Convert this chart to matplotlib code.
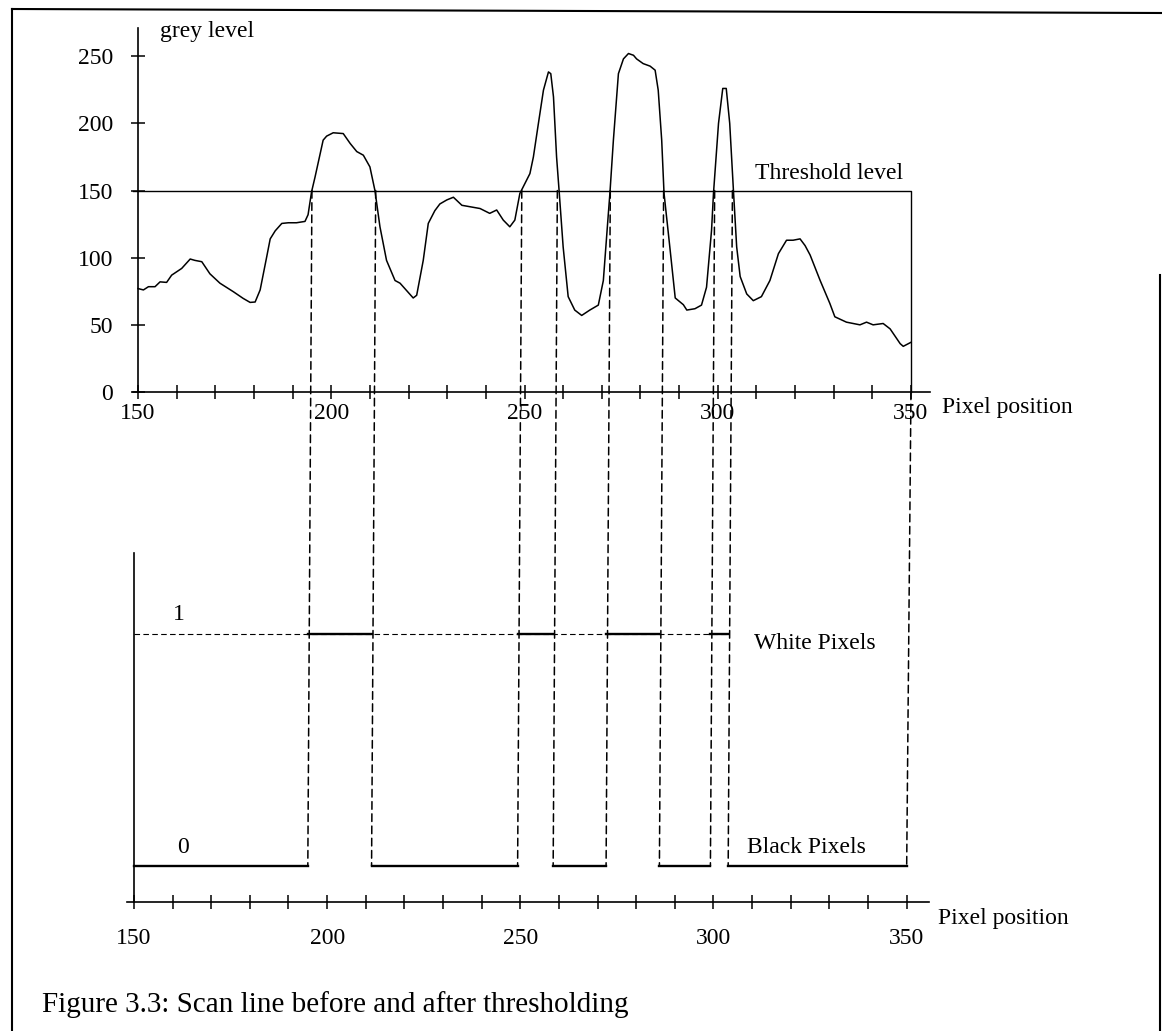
import matplotlib
matplotlib.use("Agg")
import matplotlib.pyplot as plt
from matplotlib.patches import ConnectionPatch
from matplotlib.lines import Line2D

plt.rcParams['font.family'] = ['Liberation Serif', 'DejaVu Serif']

# grey level along the scan line
pixel_pos = [150, 151.4, 152.7, 154.4, 155.7, 157.4, 158.7, 161.3, 163.5, 164.7, 166.5,
             168.6, 171.2, 174.7, 177.2, 179, 180.3, 181.6, 183.3, 184.2, 185.5, 187.2,
             188.9, 191, 193.2, 194, 194.9, 195.8, 197.9, 198.8, 200.5, 203.1, 204.9,
             206.6, 208.3, 210, 211.3, 212.6, 214.3, 216.5, 217.8, 221.2, 222.1, 223.8,
             225.1, 226.8, 228.1, 229.9, 231.6, 233.8, 238.5, 241, 242.8, 244.5, 246.2,
             247.5, 248.8, 251.4, 252.3, 253.6, 254.9, 256.2, 256.8, 257.5, 258.3, 259,
             260, 261.3, 263, 264.8, 266.9, 269.1, 270.4, 271.7, 272.1, 273, 274.3,
             275.6, 276.9, 278.2, 279, 280.7, 282.5, 283.8, 284.6, 285.5, 286.1, 287.6,
             289, 291.1, 292, 294.1, 295.8, 297.1, 298.4, 298.9, 300.2, 301.3, 302.2,
             303.1, 304.1, 304.9, 305.8, 307.5, 309.2, 311.3, 313.5, 315.7, 317.8,
             319.5, 321.3, 322.6, 323.9, 326.5, 329, 330.3, 333.3, 336.8, 338.5, 340.2,
             342.8, 344.6, 347.2, 348, 350]
grey = [77, 76, 78.4, 78.4, 82, 81.6, 87, 92, 99, 98, 97,
        88, 81, 74.6, 69.7, 66.7, 67, 76, 100.7, 114, 120, 125.5,
        126, 126, 127, 132, 149, 160, 187.5, 190.5, 193, 192.4, 185,
        179, 176.3, 167.6, 150, 123, 98, 83, 81, 70, 72, 98,
        125.5, 135, 140, 143, 145, 139, 136.6, 133, 135.5, 128, 123,
        128, 147.8, 162.6, 175, 200, 224.7, 238.3, 237, 219.7, 175, 148,
        108, 71, 61, 57, 61, 64.7, 83, 133, 148, 187.5, 237,
        248, 252, 250.7, 248, 244.5, 242.6, 239.6, 224.7, 187.5, 148, 108,
        70, 65, 61, 62, 64.7, 78, 120.5, 148, 200, 226, 226,
        200, 148, 108, 86, 73, 68, 71, 83, 103, 113,
        113, 114, 109, 102, 83, 66, 56, 52, 50, 52, 50,
        51, 47, 36, 34, 37]

threshold = 150
# positions where the scan line crosses the threshold
edges = [195, 211.5, 249.3, 258.5, 272.2, 286, 299.2, 303.8]
x_start, x_end = 150, 350

x_ticks = list(range(150, 351, 10))
x_labels = ['150', '200', '250', '300', '350']
y_ticks = [0, 50, 100, 150, 200, 250]

W, H = 1162, 1031
fig = plt.figure(figsize=(W / 100, H / 100), dpi=100)


def px_axes(x0, x1, y_top, y_bot):
    return fig.add_axes([x0 / W, 1 - y_bot / H, (x1 - x0) / W, (y_bot - y_top) / H])


def style_axes(ax):
    ax.spines['top'].set_visible(False)
    ax.spines['right'].set_visible(False)
    ax.spines['left'].set_position(('data', 150))
    ax.spines['left'].set_linewidth(1.2)
    ax.spines['bottom'].set_linewidth(1.2)
    ax.set_xticks(x_ticks)
    ax.set_xticklabels([str(t) if str(t) in x_labels else '' for t in x_ticks])
    ax.tick_params(direction='inout', length=10, width=1.1, labelsize=17)
    ax.patch.set_visible(False)


# top: grey level profile
ax1 = px_axes(133, 930.3, 28, 392)
ax1.set_xlim(148.7, 355)
ax1.set_ylim(0, 271)
style_axes(ax1)
ax1.set_yticks(y_ticks)
ax1.tick_params(axis='y', pad=13)
ax1.tick_params(axis='x', pad=3)

ax1.plot(pixel_pos, grey, color='black', lw=1.1)
ax1.plot([148.7, x_end, x_end], [threshold, threshold, 0], color='black', lw=1.0,
         clip_on=False)

ax1.text(155.7, 268.6, 'grey level', fontsize=17, va='center', ha='left')
ax1.text(309.6, 163, 'Threshold level', fontsize=17, va='center', ha='left')
ax1.text(358, -11.9, 'Pixel position', fontsize=17, va='center', ha='left')

# bottom: thresholded binary output
ax2 = px_axes(127, 928.7, 553, 902)
ax2.set_xlim(148.2, 355.7)
ax2.set_ylim(-0.155, 1.349)
style_axes(ax2)
ax2.set_yticks([])
ax2.tick_params(axis='x', pad=14)

ax2.plot([x_start, edges[-1]], [1, 1], color='black', lw=0.8, ls=(0, (5, 3)))
bounds = [x_start] + edges + [x_end]
for i in range(len(bounds) - 1):
    level = i % 2
    ax2.plot([bounds[i], bounds[i + 1]], [level, level], color='black', lw=1.7)

ax2.text(161.7, 1.082, '1', fontsize=17, va='center', ha='center')
ax2.text(162.7, 0.078, '0', fontsize=17, va='center', ha='center')
ax2.text(310.4, 0.957, 'White Pixels', fontsize=17, va='center', ha='left')
ax2.text(308.8, 0.082, 'Black Pixels', fontsize=17, va='center', ha='left')
ax2.text(358, -0.228, 'Pixel position', fontsize=17, va='center', ha='left')

# dashed drop lines from the threshold crossings to the binary signal
for e in edges:
    con = ConnectionPatch(xyA=(e, threshold), coordsA=ax1.transData,
                          xyB=(e, 0), coordsB=ax2.transData,
                          color='black', lw=1.1, ls=(0, (5, 3)))
    fig.add_artist(con)
con = ConnectionPatch(xyA=(x_end, 0), coordsA=ax1.transData,
                      xyB=(x_end, 0), coordsB=ax2.transData,
                      color='black', lw=1.1, ls=(0, (5, 3)))
fig.add_artist(con)

# frame of the scanned figure
frame = [((12, 12), (9, H)), ((12, W), (9, 13)), ((1160, 1160), (275, H))]
for xs, ys in frame:
    fig.add_artist(Line2D([x / W for x in xs], [1 - y / H for y in ys],
                          transform=fig.transFigure, color='black', lw=1.5))

fig.text(42 / W, 1 - 1005 / H, 'Figure 3.3: Scan line before and after thresholding',
         fontsize=21, va='center', ha='left')

fig.savefig('out.png', dpi=100)
